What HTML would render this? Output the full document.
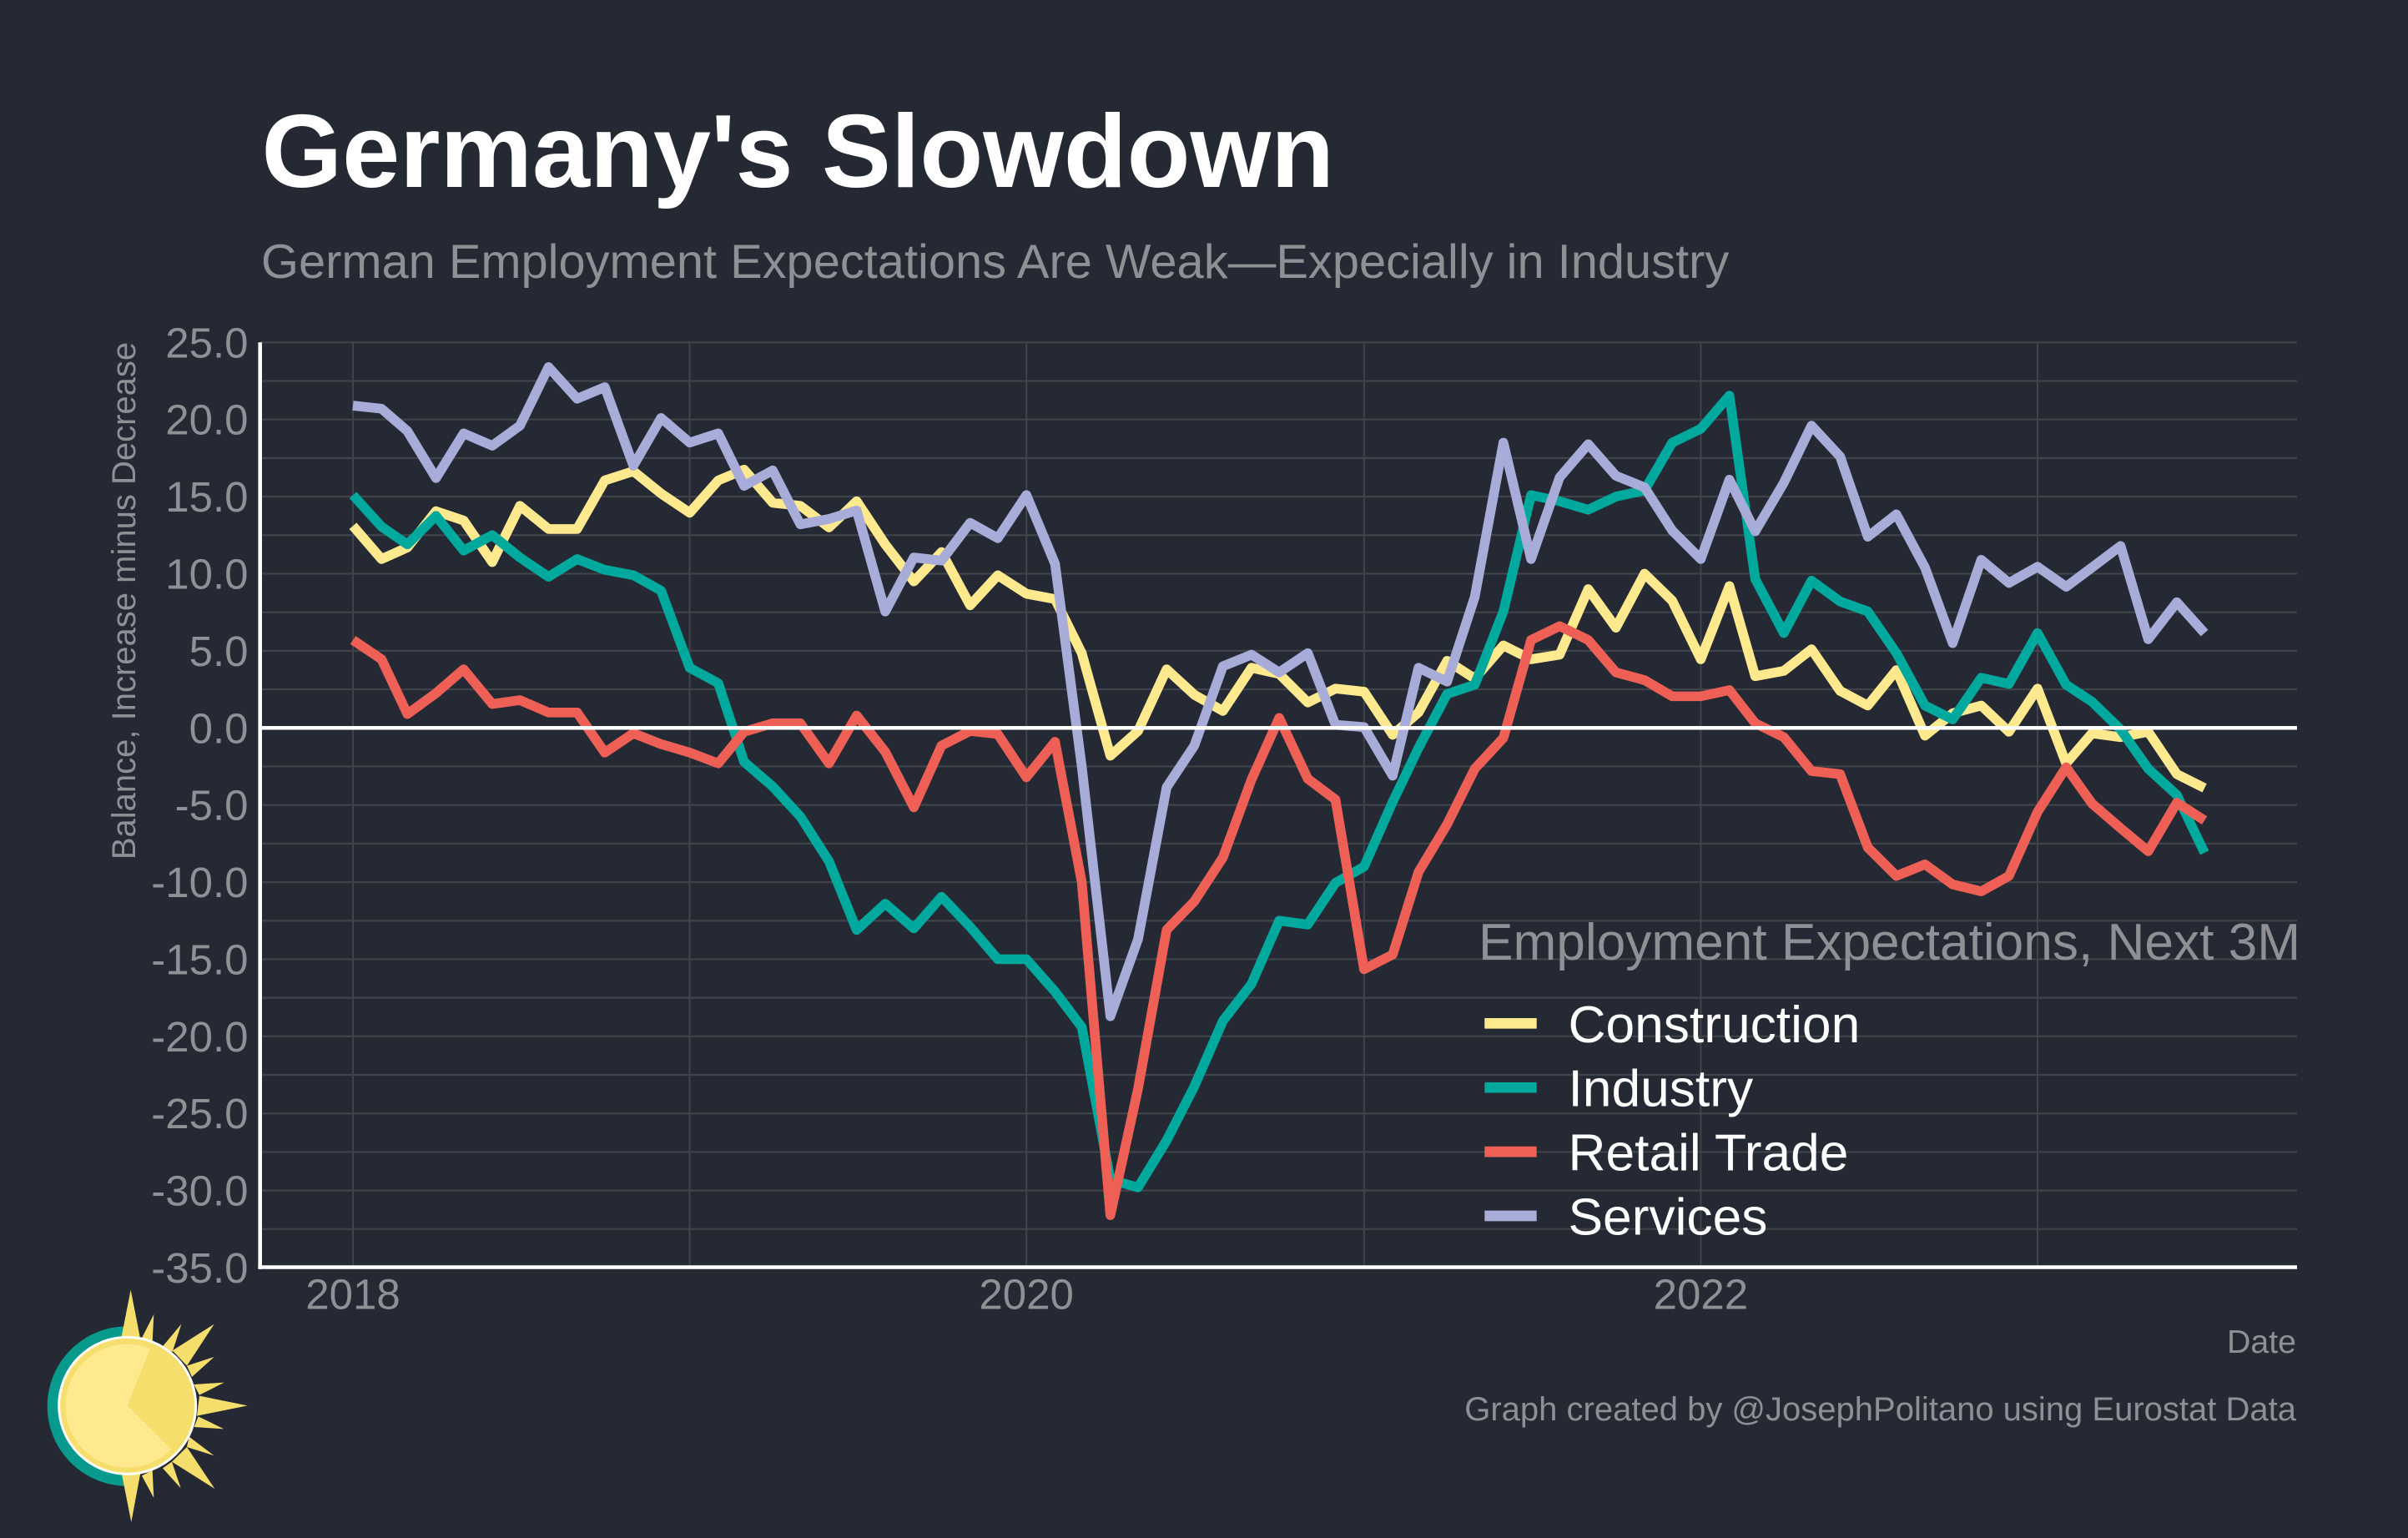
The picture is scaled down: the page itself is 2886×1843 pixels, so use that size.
<!DOCTYPE html>
<html lang="en">
<head>
<meta charset="utf-8">
<title>Germany's Slowdown</title>
<style>
html,body{margin:0;padding:0;background:#242933;width:2886px;height:1843px;overflow:hidden}
svg{display:block}
text{font-family:"Liberation Sans",Arial,sans-serif}
</style>
</head>
<body>
<svg id="chart" xmlns="http://www.w3.org/2000/svg" width="2886" height="1843" viewBox="0 0 2886 1843">
  <rect x="0" y="0" width="2886" height="1843" fill="#242933"/>
  <text x="313.5" y="224" font-size="124.2" font-weight="700" fill="#ffffff">Germany's Slowdown</text>
  <text x="313" y="333" font-size="57.8" fill="#8f9095">German Employment Expectations Are Weak—Expecially in Industry</text>
  <g id="grid"></g>
  <g id="series"></g>
  <g id="axes"></g>
  <text transform="translate(162,720) rotate(-90)" text-anchor="middle" font-size="40" fill="#8f9095">Balance, Increase minus Decrease</text>
  <text x="2752" y="1621" text-anchor="end" font-size="39.3" fill="#8f9095">Date</text>
  <text x="2752" y="1702" text-anchor="end" font-size="40" fill="#8f9095">Graph created by @JosephPolitano using Eurostat Data</text>
  <g id="legend">
    <text x="1772" y="1150" font-size="62.2" fill="#8f9095">Employment Expectations, Next 3M</text>
  </g>
  <g transform="translate(0,1480) scale(0.33333)">
    <path d="M457,328 A287,287 0 0 0 457,902 Z" fill="#089A8D"/>
    <g fill="#F5DE6B">
      <polygon points="470,197 505,375 435,375"/>
      <polygon points="553,285 548,385 510,370"/>
      <polygon points="652,320 620,420 585,400"/>
      <polygon points="770,320 672,470 620,415"/>
      <polygon points="770,438 690,510 672,470"/>
      <polygon points="806,530 717,575 697,537"/>
      <polygon points="890,613 708,650 717,578"/>
      <polygon points="805,697 698,690 713,652"/>
      <polygon points="770,793 672,762 680,725"/>
      <polygon points="772,912 618,815 672,762"/>
      <polygon points="650,910 585,838 618,815"/>
      <polygon points="553,945 510,865 548,845"/>
      <polygon points="472,1032 437,855 505,855"/>
    </g>
    <circle cx="458" cy="613" r="246" fill="#F5DE6B" stroke="#ffffff" stroke-width="9"/>
    <path d="M458,613 L540,408 A222,222 0 1 0 615,770 Z" fill="#FFE98F"/>
  </g>
</svg>
<script>
const dates = [
  '2018-01-01','2018-02-01','2018-03-01','2018-04-01','2018-05-01','2018-06-01','2018-07-01','2018-08-01','2018-09-01','2018-10-01','2018-11-01','2018-12-01',
  '2019-01-01','2019-02-01','2019-03-01','2019-04-01','2019-05-01','2019-06-01','2019-07-01','2019-08-01','2019-09-01','2019-10-01','2019-11-01','2019-12-01',
  '2020-01-01','2020-02-01','2020-03-01','2020-04-01','2020-05-01','2020-06-01','2020-07-01','2020-08-01','2020-09-01','2020-10-01','2020-11-01','2020-12-01',
  '2021-01-01','2021-02-01','2021-03-01','2021-04-01','2021-05-01','2021-06-01','2021-07-01','2021-08-01','2021-09-01','2021-10-01','2021-11-01','2021-12-01',
  '2022-01-01','2022-02-01','2022-03-01','2022-04-01','2022-05-01','2022-06-01','2022-07-01','2022-08-01','2022-09-01','2022-10-01','2022-11-01','2022-12-01',
  '2023-01-01','2023-02-01','2023-03-01','2023-04-01','2023-05-01','2023-06-01','2023-07-01'
];
const construction = [
  13.1,10.95,11.7,14.05,13.45,10.75,14.4,12.9,12.9,16.05,16.65,15.2,
  13.95,16.05,16.75,14.6,14.4,13,14.7,11.9,9.5,11.4,7.95,9.9,
  8.7,8.35,4.85,-1.8,-0.2,3.8,2.15,1.1,3.9,3.5,1.65,2.55,
  2.35,-0.45,1,4.35,3.2,5.35,4.45,4.75,9,6.5,10,8.25,
  4.45,9.2,3.35,3.7,5.1,2.4,1.45,3.75,-0.5,0.95,1.45,-0.25,
  2.55,-2.3,-0.35,-0.6,-0.25,-3,-3.9
];
const industry = [
  15.1,13.05,11.9,13.75,11.5,12.5,11.05,9.8,10.95,10.25,9.9,8.9,
  3.9,2.9,-2.2,-3.8,-5.75,-8.65,-13.1,-11.4,-13,-10.95,-12.9,-15,
  -15,-17.1,-19.4,-29.3,-29.8,-26.75,-23.25,-19,-16.6,-12.5,-12.75,-10.05,
  -9,-4.8,-1.3,2.2,2.8,7.55,15.1,14.7,14.15,15,15.4,18.5,
  19.4,21.55,9.65,6.15,9.55,8.2,7.55,4.85,1.45,0.55,3.25,2.85,
  6.15,2.8,1.7,-0.1,-2.65,-4.35,-8.1
];
const retailTrade = [
  5.7,4.45,0.9,2.25,3.8,1.55,1.8,1,1,-1.6,-0.35,-1.05,
  -1.6,-2.3,-0.25,0.3,0.3,-2.3,0.8,-1.55,-5.15,-1.15,-0.2,-0.4,
  -3.2,-0.9,-10,-31.6,-23.4,-13.1,-11.25,-8.4,-3.35,0.65,-3.3,-4.65,
  -15.65,-14.7,-9.35,-6.25,-2.65,-0.65,5.7,6.6,5.7,3.6,3.1,2.05,
  2.05,2.45,0.3,-0.6,-2.8,-3,-7.75,-9.6,-8.85,-10.15,-10.6,-9.6,
  -5.45,-2.55,-4.9,-6.5,-8,-4.85,-6
];
const services = [
  20.9,20.7,19.25,16.2,19.1,18.3,19.6,23.4,21.35,22.1,17,20.1,
  18.5,19.1,15.7,16.7,13.2,13.55,14.1,7.55,11.05,10.85,13.3,12.3,
  15.1,10.65,-2.5,-18.7,-13.7,-3.85,-1.15,4,4.75,3.6,4.85,0.2,
  0.05,-3.1,3.9,3,8.5,18.5,10.95,16.25,18.4,16.35,15.6,12.8,
  10.95,16.1,12.75,15.9,19.6,17.6,12.4,13.85,10.4,5.5,10.9,9.4,
  10.45,9.15,10.4,11.8,5.75,8.15,6.15
];
const seriesNames = ['Construction','Industry','Retail Trade','Services'];
const seriesColors = ['#FFE98F','#00A99D','#EE6055','#A7ACD9'];
const seriesValues = [construction, industry, retailTrade, services];
const yTickValues = [25,20,15,10,5,0,-5,-10,-15,-20,-25,-30,-35];
const yTickLabels = ['25.0','20.0','15.0','10.0','5.0','0.0','-5.0','-10.0','-15.0','-20.0','-25.0','-30.0','-35.0'];
const yMinorValues = [22.5,17.5,12.5,7.5,2.5,-2.5,-7.5,-12.5,-17.5,-22.5,-27.5,-32.5];
const xLabelDates = ['2018-01-01','2020-01-01','2022-01-01'];
const xLabels = ['2018','2020','2022'];
const xMinorDates = ['2019-01-01','2021-01-01','2023-01-01'];

const SVG_NS = 'http://www.w3.org/2000/svg';
const PANEL = {left:312, right:2753, top:410.3, bottom:1519};
const X_REF = {d0:Date.parse('2018-01-01'), px0:423, d1:Date.parse('2023-01-01'), px1:2442};
const Y_REF = {v0:25, px0:410.3, v1:-35, px1:1519};
const LINE_WIDTH = 11.6;

function xScale(dateStr){
  return X_REF.px0 + (Date.parse(dateStr) - X_REF.d0) * (X_REF.px1 - X_REF.px0) / (X_REF.d1 - X_REF.d0);
}
function yScale(value){
  return Y_REF.px0 + (value - Y_REF.v0) * (Y_REF.px1 - Y_REF.px0) / (Y_REF.v1 - Y_REF.v0);
}
function make(tag, attrs, parent){
  const el = document.createElementNS(SVG_NS, tag);
  for (const k in attrs) el.setAttribute(k, attrs[k]);
  parent.appendChild(el);
  return el;
}

const gridLayer = document.getElementById('grid');
const seriesLayer = document.getElementById('series');
const axesLayer = document.getElementById('axes');
const legendLayer = document.getElementById('legend');

yTickValues.concat(yMinorValues).forEach(function(v){
  const el = make('line', {x1:PANEL.left, x2:PANEL.right, y1:yScale(v), y2:yScale(v), stroke:'#404349', 'stroke-width':2.2}, gridLayer);
  
  
});
xLabelDates.concat(xMinorDates).forEach(function(d){
  const el = make('line', {x1:xScale(d), x2:xScale(d), y1:PANEL.top, y2:PANEL.bottom, stroke:'#404349', 'stroke-width':2}, gridLayer);
  
  
});

seriesValues.forEach(function(values, s){
  const d = values.map(function(v, i){
    return (i ? 'L' : 'M') + xScale(dates[i]).toFixed(2) + ' ' + yScale(v).toFixed(2);
  }).join(' ');
  const el = make('path', {d:d, fill:'none', stroke:seriesColors[s], 'stroke-width':LINE_WIDTH, 'stroke-linejoin':'round', 'stroke-linecap':'butt'}, seriesLayer);
  
  
});

const zeroLine = make('line', {x1:PANEL.left, x2:PANEL.right, y1:yScale(0), y2:yScale(0), stroke:'#ffffff', 'stroke-width':4.4}, axesLayer);


const yAxisLine = make('line', {x1:311.7, x2:311.7, y1:PANEL.top, y2:1520.8, stroke:'#ffffff', 'stroke-width':4.6}, axesLayer);


const xAxisLine = make('line', {x1:309.4, x2:PANEL.right, y1:1518.5, y2:1518.5, stroke:'#ffffff', 'stroke-width':4.6}, axesLayer);



yTickValues.forEach(function(v, i){
  const el = make('text', {x:297.5, y:yScale(v) + 18, 'text-anchor':'end', 'font-size':51, fill:'#8f9095'}, axesLayer);
  el.textContent = yTickLabels[i];
  
  
});
xLabelDates.forEach(function(d, i){
  const el = make('text', {x:xScale(d), y:1568.5, 'text-anchor':'middle', 'font-size':51, fill:'#8f9095'}, axesLayer);
  el.textContent = xLabels[i];
  
  
});

seriesNames.forEach(function(name, i){
  const keyY = 1226.3 + i * 76.9;
  const key = make('line', {x1:1779.3, x2:1841.7, y1:keyY, y2:keyY, stroke:seriesColors[i], 'stroke-width':12.7}, legendLayer);
  
  
  const label = make('text', {x:1879.5, y:keyY + 22.5, 'font-size':62.3, fill:'#ffffff'}, legendLayer);
  label.textContent = name;
  
  
});
</script>
</body>
</html>
